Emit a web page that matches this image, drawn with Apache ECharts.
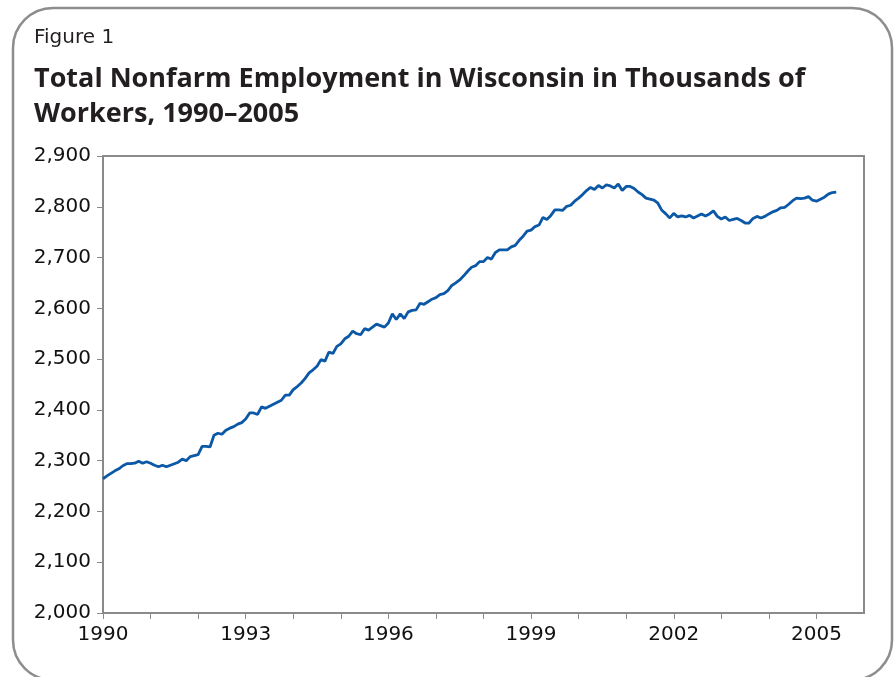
<!DOCTYPE html>
<html>
<head>
<meta charset="utf-8">
<script src="https://cdn.jsdelivr.net/npm/echarts@6/dist/echarts.min.js"></script>
<style>
  html, body { margin: 0; padding: 0; background: #fff; }
  #chart { width: 896px; height: 677px; }
</style>
</head>
<body>
<div id="chart"></div>
<script>
// monthly employment, Jan 1990 .. Jun 2005 (thousands)
var startYear = 1990;
var employment = [
  2264, 2270, 2275, 2280, 2284, 2290, 2294, 2294, 2295, 2299, 2295, 2298,
  2295, 2291, 2288, 2291, 2288, 2291, 2294, 2297, 2303, 2300, 2308, 2310,
  2312, 2328, 2328, 2327, 2350, 2354, 2352, 2360, 2364, 2367, 2372, 2375,
  2382, 2394, 2394, 2391, 2406, 2403, 2407, 2411, 2415, 2419, 2429, 2429,
  2440, 2446, 2453, 2462, 2473, 2479, 2486, 2499, 2496, 2514, 2511, 2525,
  2530, 2540, 2545, 2555, 2550, 2548, 2560, 2557, 2563, 2569, 2566, 2563,
  2571, 2589, 2578, 2589, 2580, 2593, 2596, 2597, 2610, 2608, 2613, 2618,
  2621, 2627, 2629, 2635, 2645, 2650, 2656, 2664, 2673, 2681, 2684, 2692,
  2692, 2700, 2697, 2710, 2715, 2715, 2715, 2721, 2724, 2734, 2742, 2752,
  2754, 2761, 2764, 2779, 2775, 2783, 2794, 2794, 2793, 2801, 2803, 2811,
  2817, 2824, 2832, 2838, 2834, 2842, 2837, 2843, 2841, 2837, 2845, 2832,
  2840, 2840, 2836, 2829, 2824, 2817, 2815, 2813, 2807, 2793, 2786, 2778,
  2787, 2780, 2782, 2780, 2783, 2778, 2782, 2786, 2782, 2786, 2792, 2781,
  2776, 2780, 2773, 2775, 2777, 2773, 2768, 2768, 2777, 2781, 2778, 2781,
  2786, 2790, 2793, 2798, 2799, 2805, 2812, 2817, 2816, 2817, 2820, 2813,
  2811, 2815, 2819, 2825, 2828, 2829
];
var yearLabels = [1990, 1993, 1996, 1999, 2002, 2005];

var seriesData = employment.map(function (v, i) {
  return [startYear + i / 12, v];
});

var chart = echarts.init(document.getElementById('chart'));
var axisGrey = '#8a8a8a';

var option = {
  backgroundColor: '#fff',
  animation: false,
  graphic: [{
    type: 'rect',
    shape: { x: 13, y: 8, width: 879, height: 672, r: 40 },
    style: { fill: 'none', stroke: '#8d8d8d', lineWidth: 2.5 },
    z: 0
  }],
  title: [{
    text: 'Figure 1',
    left: 34,
    top: 28,
    padding: 0,
    textStyle: { fontFamily: 'DejaVu Sans', fontSize: 20, fontWeight: 'normal', color: '#231f20' }
  }, {
    text: 'Total Nonfarm Employment in Wisconsin in Thousands of\nWorkers, 1990–2005',
    left: 34,
    top: 62,
    padding: 0,
    textStyle: { fontFamily: 'Open Sans', fontSize: 27, fontWeight: 'bold', color: '#231f20', lineHeight: 35 }
  }],
  grid: {
    left: 103,
    right: 32,
    top: 156,
    bottom: 64,
    show: true,
    borderColor: axisGrey,
    borderWidth: 2,
    backgroundColor: '#fff'
  },
  xAxis: {
    type: 'value',
    min: 1990,
    max: 2006,
    interval: 1,
    axisLine: { show: true, lineStyle: { color: axisGrey, width: 2 } },
    axisTick: { show: true, length: 6, lineStyle: { color: axisGrey, width: 1 } },
    splitLine: { show: false },
    axisLabel: {
      color: '#111',
      fontFamily: 'DejaVu Sans',
      fontSize: 20,
      margin: 12,
      showMaxLabel: false,
      formatter: function (v) {
        return yearLabels.indexOf(Math.round(v)) >= 0 ? String(Math.round(v)) : '';
      }
    }
  },
  yAxis: {
    type: 'value',
    min: 2000,
    max: 2900,
    interval: 100,
    axisLine: { show: true, lineStyle: { color: axisGrey, width: 2 } },
    axisTick: { show: true, length: 6, lineStyle: { color: axisGrey, width: 1 } },
    splitLine: { show: false },
    axisLabel: {
      color: '#111',
      fontFamily: 'DejaVu Sans',
      fontSize: 20,
      margin: 12,
      formatter: function (v) {
        return v.toLocaleString('en-US');
      }
    }
  },
  series: [{
    type: 'line',
    data: seriesData,
    showSymbol: false,
    lineStyle: { color: '#0b58a6', width: 2.8 },
    z: 3
  }]
};

chart.setOption(option);
</script>
</body>
</html>
